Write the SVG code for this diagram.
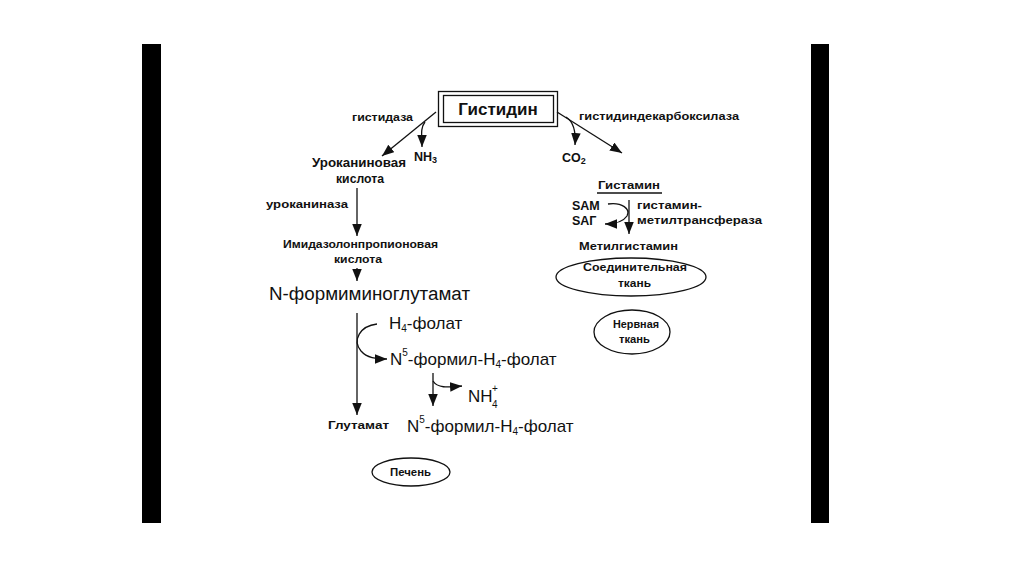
<svg xmlns="http://www.w3.org/2000/svg" width="1024" height="574" viewBox="0 0 1024 574">
<style>
text{font-family:"Liberation Sans",Arial,sans-serif;fill:#111}
.s{font-size:11.5px;font-weight:bold}
.m{font-size:12.5px;font-weight:bold}
.b{font-size:17px}
.bb{font-size:18px}
.sup{font-size:10px}
.c{fill:none;stroke:#111;stroke-width:1.3}
.e{fill:none;stroke:#111;stroke-width:1.3}
</style>
<defs>
<marker id="ah" markerUnits="userSpaceOnUse" markerWidth="13" markerHeight="10" refX="12" refY="4.75" orient="auto">
<path d="M0,0 L12,4.75 L0,9.5 Z" fill="#111"/>
</marker>
</defs>
<rect width="1024" height="574" fill="#fff"/>
<rect x="142" y="44" width="19" height="479" fill="#000"/>
<rect x="811" y="44" width="18" height="479" fill="#000"/>

<g id="connectors">
<path class="c" d="M436,112 L382,156" marker-end="url(#ah)"/>
<path class="c" d="M425,122 C420,128 422,136 422,147" marker-end="url(#ah)"/>
<path class="c" d="M357,188 L357,236" marker-end="url(#ah)"/>
<path class="c" d="M357,268 L357,281" marker-end="url(#ah)"/>
<path class="c" d="M357,313 L357,415" marker-end="url(#ah)"/>
<path class="c" d="M377,324 C360,326 352,340 361,351 C367,358 376,359 387,359" marker-end="url(#ah)"/>
<path class="c" d="M433,373 L433,406" marker-end="url(#ah)"/>
<path class="c" d="M433,381 C438,389 450,387 462,386" marker-end="url(#ah)"/>
<path class="c" d="M557,112 L622,153" marker-end="url(#ah)"/>
<path class="c" d="M566,117 C574,122 576,132 575,145" marker-end="url(#ah)"/>
<path class="c" d="M629,200 L629,234" marker-end="url(#ah)"/>
<path class="c" d="M608,204 C622,202 631,209 627,216 C623,222 615,224 605,224" marker-end="url(#ah)"/>
<path class="c" d="M597,193 L662,193"/>
</g>

<g id="histidine">
<rect x="438.5" y="91.5" width="119" height="35" fill="none" stroke="#111" stroke-width="1.3"/>
<rect x="443.5" y="95.5" width="110" height="27" fill="none" stroke="#111" stroke-width="1.3"/>
<text x="498" y="115" text-anchor="middle" style="font-size:17px;font-weight:bold">Гистидин</text>
</g>
<g id="histidase"><text class="s" x="352" y="121" textLength="61" lengthAdjust="spacingAndGlyphs">гистидаза</text></g>
<g id="nh3"><text class="m" x="414" y="161">NH<tspan font-size="9" dy="2">3</tspan></text></g>
<g id="urocanic">
<text class="m" x="312" y="167" textLength="94" lengthAdjust="spacingAndGlyphs">Уроканиновая</text>
<text class="m" x="336" y="183" textLength="48" lengthAdjust="spacingAndGlyphs">кислота</text>
</g>
<g id="urocaninase"><text class="s" x="266" y="208" textLength="82" lengthAdjust="spacingAndGlyphs">уроканиназа</text></g>
<g id="imidazolone">
<text class="s" x="283" y="248" textLength="155" lengthAdjust="spacingAndGlyphs">Имидазолонпропионовая</text>
<text class="s" x="334" y="263" textLength="48" lengthAdjust="spacingAndGlyphs">кислота</text>
</g>
<g id="nform"><text class="bb" x="269" y="300" textLength="201" lengthAdjust="spacingAndGlyphs">N-формиминоглутамат</text></g>
<g id="h4folate"><text class="b" x="389" y="329">H<tspan class="sup" dy="3">4</tspan><tspan dy="-3">-фолат</tspan></text></g>
<g id="n5formyl1"><text class="b" x="390" y="365">N<tspan class="sup" dy="-9">5</tspan><tspan dy="9">-формил-H</tspan><tspan class="sup" dy="3">4</tspan><tspan dy="-3">-фолат</tspan></text></g>
<g id="nh4">
<text class="b" x="468" y="402">NH</text>
<text class="sup" x="492" y="392">+</text>
<text class="sup" x="492" y="408">4</text>
</g>
<g id="glutamate"><text class="s" x="328" y="429" textLength="61" lengthAdjust="spacingAndGlyphs">Глутамат</text></g>
<g id="n5formyl2"><text class="b" x="407" y="432">N<tspan class="sup" dy="-9">5</tspan><tspan dy="9">-формил-H</tspan><tspan class="sup" dy="3">4</tspan><tspan dy="-3">-фолат</tspan></text></g>
<g id="liver">
<ellipse class="e" cx="411" cy="472" rx="39" ry="14"/>
<text class="s" x="390" y="476" textLength="41" lengthAdjust="spacingAndGlyphs">Печень</text>
</g>
<g id="decarboxylase"><text class="s" x="579" y="120" textLength="160" lengthAdjust="spacingAndGlyphs">гистидиндекарбоксилаза</text></g>
<g id="co2"><text class="m" x="562" y="162">CO<tspan font-size="9" dy="2">2</tspan></text></g>
<g id="histamine"><text class="s" x="598" y="189" textLength="62" lengthAdjust="spacingAndGlyphs">Гистамин</text></g>
<g id="sam"><text class="m" x="572" y="210">SAM</text></g>
<g id="sag"><text class="m" x="572" y="225">SAГ</text></g>
<g id="hmt">
<text class="s" x="637" y="209" textLength="65" lengthAdjust="spacingAndGlyphs">гистамин-</text>
<text class="s" x="637" y="224" textLength="125" lengthAdjust="spacingAndGlyphs">метилтрансфераза</text>
</g>
<g id="methylhistamine"><text class="s" x="579" y="250" textLength="99" lengthAdjust="spacingAndGlyphs">Метилгистамин</text></g>
<g id="connective">
<ellipse class="e" cx="631" cy="277" rx="75" ry="19"/>
<text class="s" x="583" y="271" textLength="104" lengthAdjust="spacingAndGlyphs">Соединительная</text>
<text class="s" x="618" y="287" textLength="33" lengthAdjust="spacingAndGlyphs">ткань</text>
</g>
<g id="nervous">
<ellipse class="e" cx="632" cy="332" rx="38" ry="22"/>
<text class="s" x="613" y="328" textLength="46" lengthAdjust="spacingAndGlyphs">Нервная</text>
<text class="s" x="619" y="343" textLength="31" lengthAdjust="spacingAndGlyphs">ткань</text>
</g>
</svg>
